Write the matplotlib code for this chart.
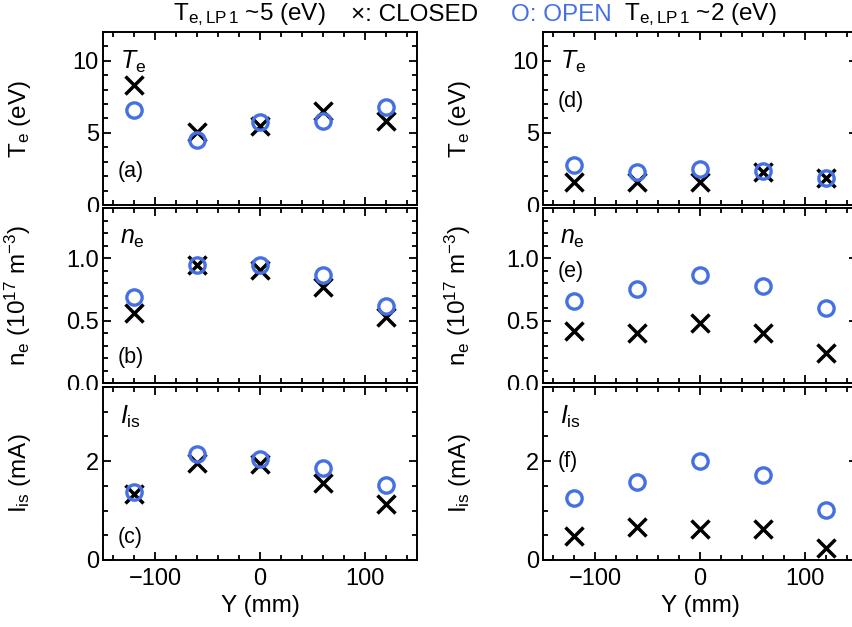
import matplotlib
matplotlib.use("Agg")
import matplotlib.pyplot as plt
from matplotlib.ticker import MultipleLocator
from matplotlib.transforms import Bbox, TransformedBbox

plt.rcParams['font.family'] = ['Liberation Sans', 'DejaVu Sans']
plt.rcParams['mathtext.fontset'] = 'custom'
plt.rcParams['mathtext.rm'] = 'Liberation Sans'
plt.rcParams['mathtext.it'] = 'Liberation Sans:italic'
plt.rcParams['mathtext.bf'] = 'Liberation Sans:bold'

# ---- data ----
Y = [-120, -60, 0, 60, 120]

te_closed_a = [8.3, 5.05, 5.5, 6.55, 5.85]
te_open_a = [6.6, 4.5, 5.75, 5.8, 6.8]
ne_closed_b = [0.56, 0.945, 0.905, 0.77, 0.53]
ne_open_b = [0.69, 0.945, 0.945, 0.865, 0.62]
iis_closed_c = [1.33, 1.97, 1.94, 1.55, 1.14]
iis_open_c = [1.38, 2.15, 2.05, 1.87, 1.52]

te_closed_d = [1.6, 1.6, 1.6, 2.3, 1.85]
te_open_d = [2.75, 2.3, 2.5, 2.35, 1.9]
ne_closed_e = [0.42, 0.40, 0.48, 0.40, 0.24]
ne_open_e = [0.66, 0.75, 0.865, 0.78, 0.60]
iis_closed_f = [0.49, 0.66, 0.62, 0.62, 0.25]
iis_open_f = [1.25, 1.58, 2.0, 1.72, 1.01]

ylabels = ["T$_\\mathrm{e}$ (eV)", "n$_\\mathrm{e}$ (10$^{17}$ m$^{-3}$)", "I$_\\mathrm{is}$ (mA)"]
quantity_names = ["$T_\\mathrm{e}$", "$n_\\mathrm{e}$", "$I_\\mathrm{is}$"]
panel_letters = [["(a)", "(b)", "(c)"], ["(d)", "(e)", "(f)"]]
ylims = [(0, 12), (0, 1.4), (0, 3.5)]
ymajor = [5, 0.5, 2]
yminor = [1, 0.1, 0.5]
yfmt = ["{:.0f}", "{:.1f}", "{:.0f}"]

closed = [[te_closed_a, ne_closed_b, iis_closed_c], [te_closed_d, ne_closed_e, iis_closed_f]]
opened = [[te_open_a, ne_open_b, iis_open_c], [te_open_d, ne_open_e, iis_open_f]]

BLUE = '#4470e2'
W, H = 852, 627
fig = plt.figure(figsize=(W / 100, H / 100), dpi=100)

col_x = [103, 543]
col_w = 314
rows = [(32, 205), (208, 383), (387, 560)]
letter_y = [[172, 357, 537], [102, 271, 462]]

for c in range(2):
    for r in range(3):
        top, bot = rows[r]
        ax = fig.add_axes([col_x[c] / W, 1 - bot / H, col_w / W, (bot - top) / H])
        ax.plot(Y, closed[c][r], linestyle='none', marker='x', ms=12.5, mew=2.5,
                color='black', zorder=3)
        ax.plot(Y, opened[c][r], linestyle='none', marker='o', ms=11, mew=2.4,
                mfc='none', mec=BLUE, zorder=4)
        ax.set_xlim(-150, 150)
        ax.set_ylim(*ylims[r])
        ax.xaxis.set_major_locator(MultipleLocator(100))
        ax.xaxis.set_minor_locator(MultipleLocator(20))
        ax.yaxis.set_major_locator(MultipleLocator(ymajor[r]))
        ax.yaxis.set_minor_locator(MultipleLocator(yminor[r]))
        fmt = yfmt[r]
        ax.yaxis.set_major_formatter(matplotlib.ticker.FuncFormatter(lambda v, p, f=fmt: f.format(v)))
        ax.tick_params(which='both', direction='in', top=True, right=True,
                       labelsize=17, width=1.3)
        ax.tick_params(which='major', length=6)
        ax.tick_params(which='minor', length=3.5)
        ax.tick_params(axis='y', pad=3)
        ax.tick_params(axis='x', pad=6)
        for s in ax.spines.values():
            s.set_linewidth(1.4)
        if r < 2:
            ax.tick_params(axis='x', labelbottom=False)
        else:
            ax.set_xlabel("Y (mm)", fontsize=17.5)
            ax.xaxis.set_label_coords(0.5, -0.2)
        ax.set_ylabel(ylabels[r], fontsize=17.5)
        ax.yaxis.set_label_coords(-0.223, 0.5)
        ax.text(17 / col_w, 1 - 30 / (bot - top), quantity_names[r], transform=ax.transAxes,
                fontsize=18, ha='left', va='center')
        ly = letter_y[c][r]
        ax.text(15 / col_w, (bot - ly) / (bot - top), panel_letters[c][r], transform=ax.transAxes,
                fontsize=15.5, ha='left', va='center')
        # clip tick labels at the lower panel boundary, as in the reference
        if r < 2:
            clipy = 1 - (bot + 7) / H
            bb = TransformedBbox(Bbox([[0, clipy], [1, 1]]), fig.transFigure)
            for lab in ax.get_yticklabels():
                lab.set_clip_box(bb)
                lab.set_clip_on(True)

# header
hy = 1 - 15 / H
fig.text(173 / W, hy, "T$_\\mathrm{e,LP\\,1}$ ~5 (eV)", fontsize=17.5, ha='left', va='center')
fig.text(351 / W, hy, "\u00d7: CLOSED", fontsize=17.5, ha='left', va='center')
fig.text(511 / W, hy, "O: OPEN", fontsize=17.5, ha='left', va='center', color=BLUE)
fig.text(624 / W, hy, "T$_\\mathrm{e,LP\\,1}$ ~2 (eV)", fontsize=17.5, ha='left', va='center')

fig.savefig("out.png", dpi=100)
